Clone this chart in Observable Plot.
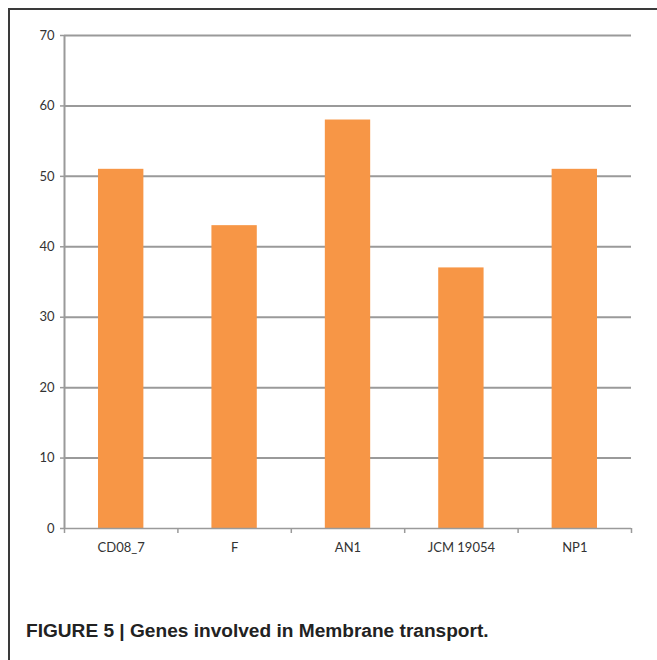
<!DOCTYPE html>
<html><head><meta charset="utf-8">
<script src="https://cdn.jsdelivr.net/npm/d3@7"></script>
<script src="https://cdn.jsdelivr.net/npm/@observablehq/plot@0.6"></script>
<style>
html,body{margin:0;padding:0;background:#fff;}
#frame{position:absolute;left:8px;top:8px;width:660px;height:660px;border-top:2px solid #3a3a3a;border-left:2px solid #3a3a3a;}
#chart{position:absolute;left:0;top:0;}
#caption{position:absolute;left:26px;top:620px;font-family:"Liberation Sans",Arial,sans-serif;font-weight:bold;font-size:19.1px;color:#222;white-space:nowrap;}
</style></head>
<body>
<div id="frame"></div>
<div id="chart"></div>
<div id="caption">FIGURE 5 | Genes involved in Membrane transport.</div>
<script>
const categories = ["CD08_7", "F", "AN1", "JCM 19054", "NP1"];
const values = [51, 43, 58, 37, 51];
const yTicks = [0, 10, 20, 30, 40, 50, 60, 70];

const data = categories.map((c, i) => ({c, i, v: values[i]}));
const bounds = d3.range(categories.length + 1);

const chart = Plot.plot({
  width: 657,
  height: 560,
  marginLeft: 64,
  marginRight: 26,
  marginTop: 35,
  marginBottom: 32,
  style: {fontFamily: "Lato, sans-serif", fontSize: "13px", color: "#333", background: "transparent"},
  x: {type: "linear", domain: [0, categories.length], axis: null, label: null},
  y: {domain: [0, 70], axis: null, label: null},
  marks: [
    Plot.ruleY(yTicks.filter(d => d > 0), {stroke: "#9a9a9a", strokeWidth: 2}),
    Plot.rectY(data, {x1: d => d.i + 0.3, x2: d => d.i + 0.7, y1: 0, y2: "v", fill: "#F79646"}),
    Plot.ruleX([0], {stroke: "#9a9a9a", strokeWidth: 2}),
    Plot.ruleY([0], {stroke: "#9a9a9a", strokeWidth: 1.5}),
    Plot.axisY(yTicks, {label: null, tickSize: 4, tickPadding: 6, stroke: "#9a9a9a", strokeWidth: 1.5, fill: "#333", fontSize: 13}),
    Plot.axisX(bounds, {label: null, tickSize: 5, tickFormat: () => "", stroke: "#9a9a9a", strokeWidth: 1.5}),
    Plot.axisX(data.map(d => d.i + 0.5), {label: null, tickSize: 0, tickPadding: 14, tickFormat: (d) => categories[Math.floor(d)], fill: "#333", fontSize: 13})
  ]
});
document.getElementById("chart").append(chart);
</script>
</body></html>
